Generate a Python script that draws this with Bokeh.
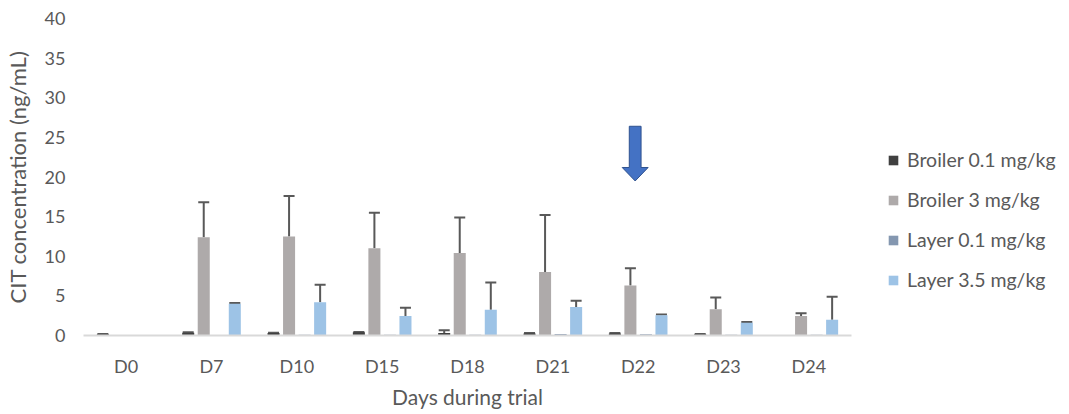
from bokeh.plotting import figure
from bokeh.models import (ColumnDataSource, Whisker, TeeHead, Legend, LegendItem,
                          FactorRange)
from bokeh.transform import dodge
from bokeh.embed import file_html
from bokeh.resources import INLINE

# ---------------- data ----------------
days = ["D0", "D7", "D10", "D15", "D18", "D21", "D22", "D23", "D24"]
series_names = ["Broiler 0.1 mg/kg", "Broiler 3 mg/kg", "Layer 0.1 mg/kg", "Layer 3.5 mg/kg"]
broiler_01 = [0.15, 0.35, 0.3, 0.4, 0.3, 0.25, 0.25, 0.15, 0.05]
broiler_01_sd = [0.05, 0.05, 0.05, 0.05, 0.35, 0.05, 0.05, 0.05, 0.0]
broiler_3 = [0.05, 12.4, 12.5, 11.0, 10.4, 8.0, 6.3, 3.3, 2.45]
broiler_3_sd = [0.0, 4.4, 5.1, 4.5, 4.5, 7.2, 2.2, 1.5, 0.35]
layer_01 = [0.05, 0.05, 0.1, 0.1, 0.1, 0.2, 0.15, 0.1, 0.1]
layer_01_sd = [0.0, 0.0, 0.0, 0.0, 0.0, 0.0, 0.0, 0.0, 0.0]
layer_35 = [0.05, 4.0, 4.2, 2.45, 3.25, 3.6, 2.55, 1.6, 2.0]
layer_35_sd = [0.0, 0.1, 2.2, 1.05, 3.45, 0.8, 0.1, 0.1, 2.9]
y_ticks = [0, 5, 10, 15, 20, 25, 30, 35, 40]

# arrow annotation (marks day D22)
arrow_day = "D22"
arrow_top, arrow_neck, arrow_tip = 26.4, 21.2, 19.5

# ---------------- style ----------------
colors = ["#404040", "#AEAAAA", "#8497B0", "#9DC3E6"]
offsets = [-0.273, -0.091, 0.091, 0.273]
bar_w = 0.141
FONT = "Lato"
TXT = "#595959"

p = figure(x_range=FactorRange(*days), y_range=(0, 40),
           frame_width=768, frame_height=317, output_backend="svg", toolbar_location=None,
           min_border_left=78, min_border_right=207, min_border_top=18,
           min_border_bottom=10)
p.outline_line_color = None
p.xgrid.grid_line_color = None
p.ygrid.grid_line_color = None
p.background_fill_color = "white"
p.border_fill_color = "white"

renderers = []
values = [broiler_01, broiler_3, layer_01, layer_35]
sds = [broiler_01_sd, broiler_3_sd, layer_01_sd, layer_35_sd]
for name, vals, sd, col, off in zip(series_names, values, sds, colors, offsets):
    src = ColumnDataSource(dict(day=days, val=vals))
    r = p.vbar(x=dodge("day", off, range=p.x_range), top="val", width=bar_w,
               source=src, fill_color=col, line_color=None)
    renderers.append(r)
    wd = [d for d, s in zip(days, sd) if s > 0]
    wl = [v for v, s in zip(vals, sd) if s > 0]
    wu = [v + s for v, s in zip(vals, sd) if s > 0]
    wsrc = ColumnDataSource(dict(day=wd, lower=wl, upper=wu))
    w = Whisker(base=dodge("day", off, range=p.x_range), lower="lower", upper="upper",
                source=wsrc, line_color="#595959", line_width=2,
                upper_head=TeeHead(size=11, line_color="#595959", line_width=2),
                lower_head=None)
    p.add_layout(w)

# arrow built around the D22 category (synthetic coordinate = index + 0.5)
cx = days.index(arrow_day) + 0.5 - 0.035
sw, hw = 0.069, 0.152
ax = [cx - sw, cx + sw, cx + sw, cx + hw, cx, cx - hw, cx - sw]
ay = [arrow_top, arrow_top, arrow_neck, arrow_neck, arrow_tip, arrow_neck, arrow_neck]
p.patch(ax, ay, fill_color="#4472C4", line_color="#2F528F", line_width=1)

# axes
p.yaxis.ticker = y_ticks
p.yaxis.axis_line_color = None
p.yaxis.major_tick_line_color = None
p.yaxis.minor_tick_line_color = None
p.yaxis.major_tick_out = 0
p.yaxis.major_label_standoff = 18
p.yaxis.axis_label = "CIT concentration (ng/mL)"
p.yaxis.axis_label_standoff = 11

p.xaxis.axis_line_color = "#D9D9D9"
p.xaxis.axis_line_width = 2
p.xaxis.major_tick_line_color = None
p.xaxis.minor_tick_line_color = None
p.xaxis.major_tick_out = 0
p.xaxis.major_label_standoff = 19
p.xaxis.axis_label = "Days during trial"
p.xaxis.axis_label_standoff = 4

for ax_ in (p.xaxis, p.yaxis):
    ax_.major_label_text_font = FONT
    ax_.major_label_text_font_size = "18px"
    ax_.major_label_text_color = TXT
    ax_.axis_label_text_font = FONT
    ax_.axis_label_text_font_size = "21px"
    ax_.axis_label_text_font_style = "normal"
    ax_.axis_label_text_color = TXT
p.yaxis.axis_label_text_font_size = "22px"

legend = Legend(items=[LegendItem(label=n, renderers=[r]) for n, r in zip(series_names, renderers)],
                location=(36, 44), orientation="vertical",
                label_text_font=FONT, label_text_font_size="19.5px", label_text_color=TXT,
                glyph_width=12, glyph_height=12, label_standoff=8, spacing=17,
                border_line_color=None, background_fill_alpha=0, padding=0, margin=0)
p.add_layout(legend, "right")

open("out.html", "w").write(file_html(p, INLINE))
